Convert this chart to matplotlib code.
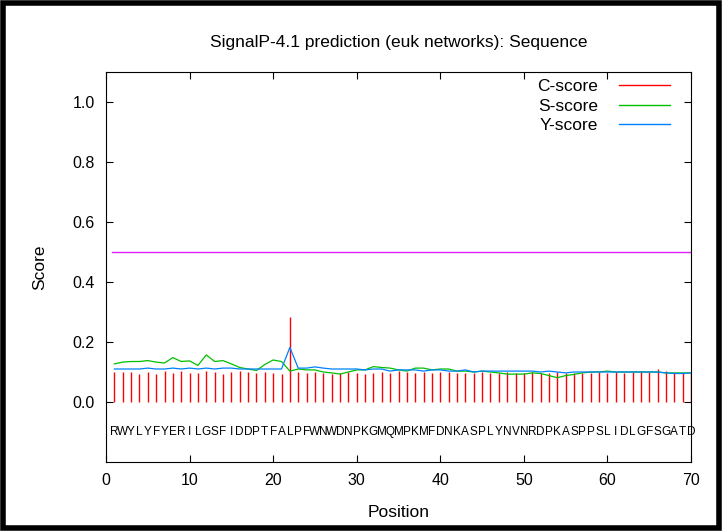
import matplotlib
matplotlib.use("Agg")
import matplotlib.pyplot as plt
from matplotlib.lines import Line2D
from matplotlib.patches import Rectangle

# SignalP-4.1 output, values
SEQUENCE = "RWYLYFYERILGSFIDDPTFALPFWNWDNPKGMQMPKMFDNKASPLYNVNRDPKASPPSLIDLGFSGATD"
POSITIONS = list(range(1, len(SEQUENCE) + 1))

C_SCORE = [
    0.100, 0.100, 0.100, 0.095, 0.100, 0.095, 0.103, 0.098, 0.103, 0.097,
    0.097, 0.102, 0.100, 0.095, 0.100, 0.102, 0.100, 0.097, 0.100, 0.097,
    0.095, 0.285, 0.100, 0.098, 0.100, 0.097, 0.095, 0.097, 0.100, 0.097,
    0.095, 0.098, 0.100, 0.097, 0.103, 0.100, 0.097, 0.100, 0.097, 0.100,
    0.100, 0.097, 0.098, 0.097, 0.100, 0.098, 0.097, 0.100, 0.097, 0.098,
    0.100, 0.097, 0.098, 0.100, 0.097, 0.098, 0.097, 0.098, 0.100, 0.097,
    0.100, 0.097, 0.100, 0.105, 0.100, 0.110, 0.103, 0.097, 0.097, 0.097,
]
S_SCORE = [
    0.127, 0.133, 0.135, 0.135, 0.138, 0.133, 0.130, 0.148, 0.135, 0.137,
    0.122, 0.157, 0.135, 0.138, 0.127, 0.115, 0.110, 0.105, 0.125, 0.140,
    0.135, 0.103, 0.110, 0.107, 0.107, 0.100, 0.097, 0.093, 0.100, 0.107,
    0.107, 0.118, 0.115, 0.113, 0.107, 0.103, 0.113, 0.113, 0.107, 0.110,
    0.110, 0.103, 0.103, 0.100, 0.103, 0.100, 0.097, 0.093, 0.093, 0.093,
    0.097, 0.095, 0.088, 0.081, 0.088, 0.092, 0.097, 0.100, 0.100, 0.103,
    0.100, 0.100, 0.100, 0.100, 0.100, 0.100, 0.097, 0.097, 0.097, 0.097,
]
Y_SCORE = [
    0.110, 0.110, 0.110, 0.110, 0.113, 0.110, 0.110, 0.113, 0.110, 0.113,
    0.110, 0.113, 0.110, 0.113, 0.113, 0.110, 0.110, 0.110, 0.110, 0.110,
    0.110, 0.182, 0.113, 0.113, 0.117, 0.113, 0.110, 0.110, 0.110, 0.110,
    0.107, 0.110, 0.110, 0.103, 0.107, 0.107, 0.107, 0.103, 0.107, 0.107,
    0.103, 0.103, 0.107, 0.100, 0.103, 0.103, 0.103, 0.103, 0.103, 0.103,
    0.103, 0.100, 0.103, 0.100, 0.097, 0.100, 0.100, 0.100, 0.100, 0.100,
    0.100, 0.100, 0.100, 0.100, 0.100, 0.100, 0.097, 0.095, 0.095, 0.097,
]
CUTOFF = 0.5

plt.rcParams.update({
    "font.family": ["Liberation Sans", "DejaVu Sans"],
    "font.size": 11,
    "xtick.direction": "in",
    "ytick.direction": "in",
    "xtick.top": True,
    "ytick.right": True,
})

RED, GREEN, BLUE, MAGENTA = "#ff0000", "#00c000", "#0080ff", "#dd22ff"

fig = plt.figure(figsize=(7.22, 5.31), dpi=100)
ax = fig.add_axes([106 / 722, 69 / 531, 585 / 722, 390 / 531])

ax.vlines(POSITIONS, 0, C_SCORE, color=RED, linewidth=1.0)
ax.plot(POSITIONS, S_SCORE, color=GREEN, linewidth=0.9)
ax.plot(POSITIONS, Y_SCORE, color=BLUE, linewidth=0.9)
ax.plot([0.7, POSITIONS[-1]], [CUTOFF, CUTOFF], color=MAGENTA, linewidth=1.0)

for pos, aa in zip(POSITIONS, SEQUENCE):
    ax.text(pos, -0.1, aa, ha="center", va="center", fontsize=8.5)

ax.set_xlim(0, 70)
ax.set_ylim(-0.2, 1.1)
ax.set_xticks(range(0, 71, 10))
ax.set_yticks([0.0, 0.2, 0.4, 0.6, 0.8, 1.0])
ax.set_yticklabels(["0.0", "0.2", "0.4", "0.6", "0.8", "1.0"])
ax.tick_params(length=5, width=0.8, pad=8, labelsize=11.5)
for sp in ax.spines.values():
    sp.set_linewidth(0.8)

ax.set_xlabel("Position", fontsize=12.5, labelpad=12)
ax.set_ylabel("Score", fontsize=12.5, labelpad=18)
ax.set_title("SignalP-4.1 prediction (euk networks): Sequence", fontsize=12.5, pad=18)

handles = [Line2D([], [], color=c, linewidth=1.0) for c in (RED, GREEN, BLUE)]
ax.legend(handles, ["C-score", "S-score", "Y-score"], loc="upper right",
          bbox_to_anchor=(0.99, 1.022), frameon=False, markerfirst=False,
          handlelength=2.9, handletextpad=1.2, labelspacing=0.25, fontsize=12.5)

fig.patches.append(Rectangle((0.004, 0.005), 0.992, 0.99, transform=fig.transFigure,
                             fill=False, edgecolor="black", linewidth=4))

fig.savefig("out.png", dpi=100)
